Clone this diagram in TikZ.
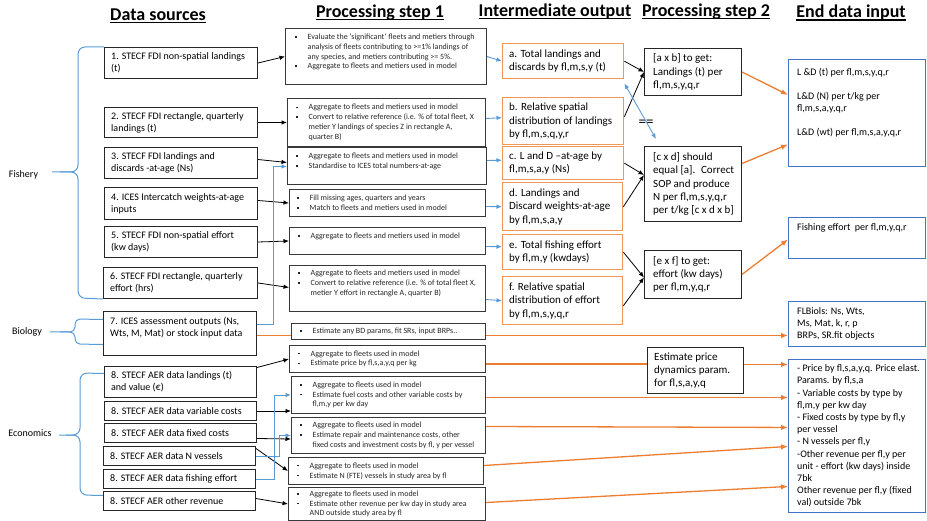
\documentclass[tikz,border=0pt]{standalone}
\usepackage{fontspec}
\setmainfont{Carlito}
\usetikzlibrary{arrows.meta,calc,backgrounds}
\definecolor{lblue}{RGB}{91,155,213}
\definecolor{oran}{RGB}{237,125,49}
\definecolor{oranbox}{RGB}{241,150,90}
\definecolor{dblue}{RGB}{68,114,196}
\newcommand\bu{\makebox[12.5pt][l]{\rule[1.8pt]{1.6pt}{1.6pt}}}
\newcommand\bulind{\hspace*{12.5pt}}
\newcommand\hul[1]{\setbox0=\hbox{#1}\rlap{\rule[-2.6pt]{\wd0}{1.2pt}}\box0}
\newcommand\mybox[9]{%
  \node[#1, anchor=north west, minimum width={#6-#4}, minimum height={#7-#5}] (#3) at (#4,#5) {};
  \node[#2, anchor=west] (#3t) at ([shift={(#8)}]#3.west) {#9};
}
\tikzset{
  srcbox/.style={draw=black!85, line width=1pt, fill=white, inner sep=0pt},
  procbox/.style={draw=black!78, line width=1pt, fill=white, inner sep=0pt},
  interbox/.style={draw=oranbox, line width=1.4pt, fill=white, inner sep=0pt},
  psbox/.style={draw=black!85, line width=1pt, fill=white, inner sep=0pt},
  endbox/.style={draw=dblue, line width=0.9pt, fill=white, inner sep=0pt},
  srct/.style={inner sep=0pt, align=left, font=\fontsize{10}{12}\selectfont},
  proct/.style={inner sep=0pt, align=left, font=\fontsize{8}{9.8}\selectfont, text=black!85},
  intert/.style={inner sep=0pt, align=left, font=\fontsize{11}{13.5}\selectfont},
  pst/.style={inner sep=0pt, align=left, font=\fontsize{11}{13.2}\selectfont},
  endt/.style={inner sep=0pt, align=left, font=\fontsize{10}{12.2}\selectfont},
  head/.style={font=\fontsize{18}{22}\selectfont\bfseries, inner sep=0pt, anchor=base},
  lab/.style={font=\fontsize{10}{12}\selectfont, inner sep=0pt},
  blk/.style={-{Latex[length=5.5pt,width=4.5pt]}, line width=0.8pt, black},
  blu/.style={-{Latex[length=5.5pt,width=4.5pt]}, line width=0.9pt, lblue},
  blu2/.style={{Latex[length=5.5pt,width=4.5pt]}-{Latex[length=5.5pt,width=4.5pt]}, line width=0.9pt, lblue},
  orn/.style={-{Latex[length=7pt,width=5.5pt]}, line width=1.3pt, oran},
  ornl/.style={line width=1.3pt, oran},
  brace/.style={lblue, line width=1pt, rounded corners=7pt},
}
\begin{document}
\begin{tikzpicture}[x=1pt,y=-1pt]
\useasboundingbox (0,0) rectangle (927,521);

% headings
\node[head] (h1) at (158,20.5) {\hul{Data sources}};
\node[head] (h2) at (380,17.5) {\hul{Processing step 1}};
\node[head] (h3) at (555,16.5) {\hul{Intermediate output}};
\node[head] (h4) at (706,16.5) {\hul{Processing step 2}};
\node[head] (h5) at (851,18) {\hul{End data input}};

% side labels
\node[lab] (fish) at (23.5,175) {Fishery};
\node[lab] (bio) at (27,332) {Biology};
\node[lab] (eco) at (30,433) {Economics};

% data sources
\mybox{srcbox}{srct}{b1}{104}{47}{257}{78}{7,0}{1. STECF FDI non-spatial landings\\(t)}
\mybox{srcbox}{srct}{b2}{104}{107}{257}{137}{7,0}{2. STECF FDI rectangle, quarterly\\landings (t)}
\mybox{srcbox}{srct}{b3}{104}{147}{257}{178}{7,0}{3. STECF FDI landings and\\discards -at-age (Ns)}
\mybox{srcbox}{srct}{b4}{104}{187}{257}{219}{7,0}{4. ICES Intercatch weights-at-age\\inputs}
\mybox{srcbox}{srct}{b5}{104}{226}{257}{257}{7,0}{5. STECF FDI non-spatial effort\\(kw days)}
\mybox{srcbox}{srct}{b6}{103}{267}{257}{298}{7,0}{6. STECF FDI rectangle, quarterly\\effort (hrs)}
\mybox{srcbox}{srct}{b7}{103}{311}{256}{355}{7,-6}{7. ICES assessment outputs (Ns,\\Wts, M, Mat) or stock input data}
\mybox{srcbox}{srct}{b8a}{104}{366}{256}{397}{7,0}{8. STECF AER data landings (t)\\and value (€)}
\mybox{srcbox}{srct}{b8b}{104}{401}{256}{420}{7,0}{8. STECF AER data variable costs}
\mybox{srcbox}{srct}{b8c}{104}{423}{256}{442}{7,0}{8. STECF AER data fixed costs}
\mybox{srcbox}{srct}{b8d}{103}{446}{255}{465}{7,0}{8. STECF AER data N vessels}
\mybox{srcbox}{srct}{b8e}{103}{469}{255}{488}{7,0}{8. STECF AER data fishing effort}
\mybox{srcbox}{srct}{b8f}{103}{491}{255}{510}{7,0}{8. STECF AER other revenue}

% processing step 1
\mybox{procbox}{proct}{p1}{285}{28}{486}{84}{10,-4.5}{\bu Evaluate the ‘significant’ fleets and metiers through\\\bulind analysis of fleets contributing to >=1\% landings of\\\bulind any species, and metiers contributing >= 5\%.\\\bu Aggregate to fleets and metiers used in model}
\mybox{procbox}{proct}{p2}{287}{98}{485}{146}{9,0}{\bu Aggregate to fleets and metiers used in model\\\bu Convert to relative reference (i.e. \% of total fleet, X\\\bulind metier Y landings of species Z in rectangle A,\\\bulind quarter B)}
\mybox{procbox}{proct}{p3}{287}{147}{486}{184}{9,-4.5}{\bu Aggregate to fleets and metiers used in model\\\bu Standardise to ICES total numbers-at-age}
\mybox{procbox}{proct}{p4}{289}{189}{485}{216}{8,0}{\bu Fill missing ages, quarters and years\\\bu Match to fleets and metiers used in model}
\mybox{procbox}{proct}{p5}{289}{227}{485}{254}{9,-4.5}{\bu Aggregate to fleets and metiers used in model}
\mybox{procbox}{proct}{p6}{289}{265}{485}{311}{9,-5}{\bu Aggregate to fleets and metiers used in model\\\bu Convert to relative reference (i.e. \% of total fleet X,\\\bulind metier Y effort in rectangle A, quarter B)}
\mybox{procbox}{proct}{p7}{291}{323}{485}{339}{9,0}{\bu Estimate any BD params, fit SRs, input BRPs..}
\mybox{procbox}{proct}{p8a}{289}{345}{485}{372}{9,0}{\bu Aggregate to fleets used in model\\\bu Estimate price by fl,s,a,y,q per kg}
\mybox{procbox}{proct}{p8b}{291}{376}{485}{413}{9,0}{\bu Aggregate to fleets used in model\\\bu Estimate fuel costs and other variable costs by\\\bulind fl,m,y per kw day}
\mybox{procbox}{proct}{p8c}{291}{417}{485}{453}{9,0}{\bu Aggregate to fleets used in model\\\bu Estimate repair and maintenance costs, other\\\bulind fixed costs and investment costs by fl, y per vessel}
\mybox{procbox}{proct}{p8d}{288}{457}{483}{484}{9,0}{\bu Aggregate to fleets used in model\\\bu Estimate N (FTE) vessels in study area by fl}
\mybox{procbox}{proct}{p8e}{288}{487}{485}{520}{9,0}{\bu Aggregate to fleets used in model\\\bu Estimate other revenue per kw day in study area\\\bulind AND outside study area by fl}

% intermediate output
\mybox{interbox}{intert}{i1}{502}{43}{623}{78}{7,0}{a. Total landings and\\discards by fl,m,s,y (t)}
\mybox{interbox}{intert}{i2}{502}{97}{623}{144}{7,0}{b. Relative spatial\\distribution of landings\\by fl,m,s,q,y,r}
\mybox{interbox}{intert}{i3}{502}{146}{623}{179}{7,0}{c. L and D –at-age by\\fl,m,s,a,y (Ns)}
\mybox{interbox}{intert}{i4}{502}{182}{622}{230}{7,0}{d. Landings and\\Discard weights-at-age\\by fl,m,s,a,y}
\mybox{interbox}{intert}{i5}{502}{234}{622}{269}{7,0}{e. Total fishing effort\\by fl,m,y (kwdays)}
\mybox{interbox}{intert}{i6}{502}{276}{622}{324}{7,0}{f. Relative spatial\\distribution of effort\\by fl,m,s,y,q,r}

% processing step 2
\mybox{psbox}{pst}{q1}{644}{48}{741}{95}{9,0}{[a x b] to get:\\Landings (t) per\\fl,m,s,y,q,r}
\mybox{psbox}{pst}{q2}{644}{146}{741}{221}{9,0}{[c x d] should\\equal [a].~ Correct\\SOP and produce\\N per fl,m,s,y,q,r\\per t/kg [c x d x b]}
\mybox{psbox}{pst}{q3}{644}{250}{741}{298}{9,0}{[e x f] to get:\\effort (kw days)\\per fl,m,y,q,r}
\mybox{psbox}{pst}{q4}{647}{347}{743}{393}{7,0}{Estimate price\\dynamics param.\\for fl,s,a,y,q}
\node[font=\fontsize{15}{15}\selectfont, inner sep=0pt] (eq) at (646,123) {==};

% end data input
\mybox{endbox}{endt}{e1}{788}{59}{925}{166}{9,-10}{L \&D (t) per fl,m,s,y,q,r\\[11pt]L\&D (N) per t/kg per\\fl,m,s,a,y,q,r\\[12pt]L\&D (wt) per fl,m,s,a,y,q,r}
\mybox{endbox}{endt}{e2}{788}{217}{925}{258}{9,-10.5}{Fishing effort~ per fl,m,y,q,r}
\mybox{endbox}{endt}{e3}{788}{301}{925}{346}{9,0}{FLBiols: Ns, Wts,\\Ms, Mat, k, r, p\\BRPs, SR.fit objects}
\mybox{endbox}{endt}{e4}{788}{359}{925}{512}{9,0}{- Price by fl,s,a,y,q. Price elast.\\Params. by fl,s,a\\- Variable costs by type by\\fl,m,y per kw day\\- Fixed costs by type by fl,y\\per vessel\\- N vessels per fl,y\\-Other revenue per fl,y per\\unit - effort (kw days) inside\\7bk\\Other revenue per fl,y (fixed\\val) outside 7bk}

% braces
\draw[brace] (b1.north west) -- (78,47) -- (78,172) -- (52,172);
\draw[brace] (b6.south west) -- (78,298) -- (78,172) -- (60,172);
\draw[brace, rounded corners=5pt] ([yshift=14pt]b7.west) -- (75,319) -- (75,332) -- (50,332);
\draw[brace, rounded corners=5pt] ([yshift=-11pt]b7.west) -- (75,344) -- (75,332) -- (60,332);
\draw[brace] ([yshift=8.5pt]b8a.west) -- (80,373) -- (80,435) -- (59,435);
\draw[brace] ([yshift=5.5pt]b8f.west) -- (80,495) -- (80,435) -- (66,435);

% sources -> step 1
\draw[blk] (b1.east) -- (p1.west);
\draw[blk] (b2.east) -- (p2.west);
\draw[blk] ([yshift=3.5pt]b3.east) -- ([yshift=3.5pt]p3.west);
\draw[blk] ([yshift=3pt]b4.east) -- (p4.west);
\draw[blk] (b5.east) -- (p5.west);
\draw[blk] (b6.east) -- ([yshift=1pt]p6.west);
\draw[blk] ([yshift=14.5pt]b8a.east) -- (p8a.west);
\draw[blk] (b8b.east) -- ([yshift=-16pt]p8b.west);
\draw[blk] ([yshift=-5.5pt]b8c.east) -- ([yshift=-3.5pt]p8c.west);
\draw[blk] ([yshift=7.5pt]b8d.east) -- (p8d.west);
\draw[blk] ([yshift=2.5pt]b8f.east) -- (p8e.west);
\draw[blu] ([yshift=9pt]b7.east) -- ++(16,0) |- ([yshift=-0.5pt]p3.west);
\draw[blu] (b8e.east) -- ++(18,0) |- (p8b.west);
\draw[blu] (b8d.east) -- ++(23,0) |- (p8c.west);

% step 1 -> intermediate
\draw[blu] (p1.east) -- (i1.west);
\draw[blu] ([yshift=4pt]p2.east) -- ([yshift=3.5pt]i2.west);
\draw[blu] ([yshift=5.5pt]p3.east) -- ([yshift=3pt]i3.west);
\draw[blu] ([yshift=-3.5pt]p4.east) -- (i4.west);
\draw[blu] ([yshift=-5.5pt]p5.east) -- ([yshift=5.5pt]i5.west);
\draw[blu] ([yshift=-11pt]p6.east) -- (i6.west);

% intermediate -> step 2
\draw[blk] (i1.east) -- (q1.west);
\draw[blk] ([yshift=4.5pt]i2.east) -- (q1.west);
\draw[blk] (i3.east) -- ([yshift=9pt]q2.west);
\draw[blk] (i4.east) -- ([yshift=9pt]q2.west);
\draw[blk] (i5.east) -- ([yshift=-3pt]q3.west);
\draw[blk] ([yshift=-5pt]i6.east) -- ([yshift=-3pt]q3.west);
\draw[blu2] ([yshift=-4pt]i1.south east) -- ([shift={(12,-7)}]q2.north west);

% step 2 -> end
\draw[orn] (q1.east) -- ([yshift=18pt]e1.west);
\draw[orn] ([yshift=20.5pt]q2.east) -- ([yshift=-31.5pt]e1.west);
\draw[orn] (q3.east) -- ([yshift=-1.5pt]e2.west);
\coordinate (o7) at ([yshift=-2pt]b7.east);
\begin{scope}[on background layer]
\draw[orn] (o7) -- (o7 -| e3.west);
\end{scope}

% economics
\coordinate (o8a) at ([yshift=-5pt]p8a.east);
\draw[ornl] (o8a) -- (o8a -| q4.west);
\coordinate (oq4) at ([yshift=6pt]q4.east);
\draw[orn] (oq4) -- (oq4 -| e4.west);
\coordinate (o8b) at ([yshift=-2.5pt]p8b.east);
\draw[orn] (o8b) -- (o8b -| e4.west);
\draw[orn] ([yshift=9pt]p8c.east) -- ([yshift=8.5pt]e4.west);
\draw[orn] ([yshift=5.5pt]p8d.east) -- ([yshift=-10.5pt]e4.west);
\draw[orn] ([yshift=1.5pt]p8e.east) -- ([yshift=-50.5pt]e4.west);
\end{tikzpicture}
\end{document}
